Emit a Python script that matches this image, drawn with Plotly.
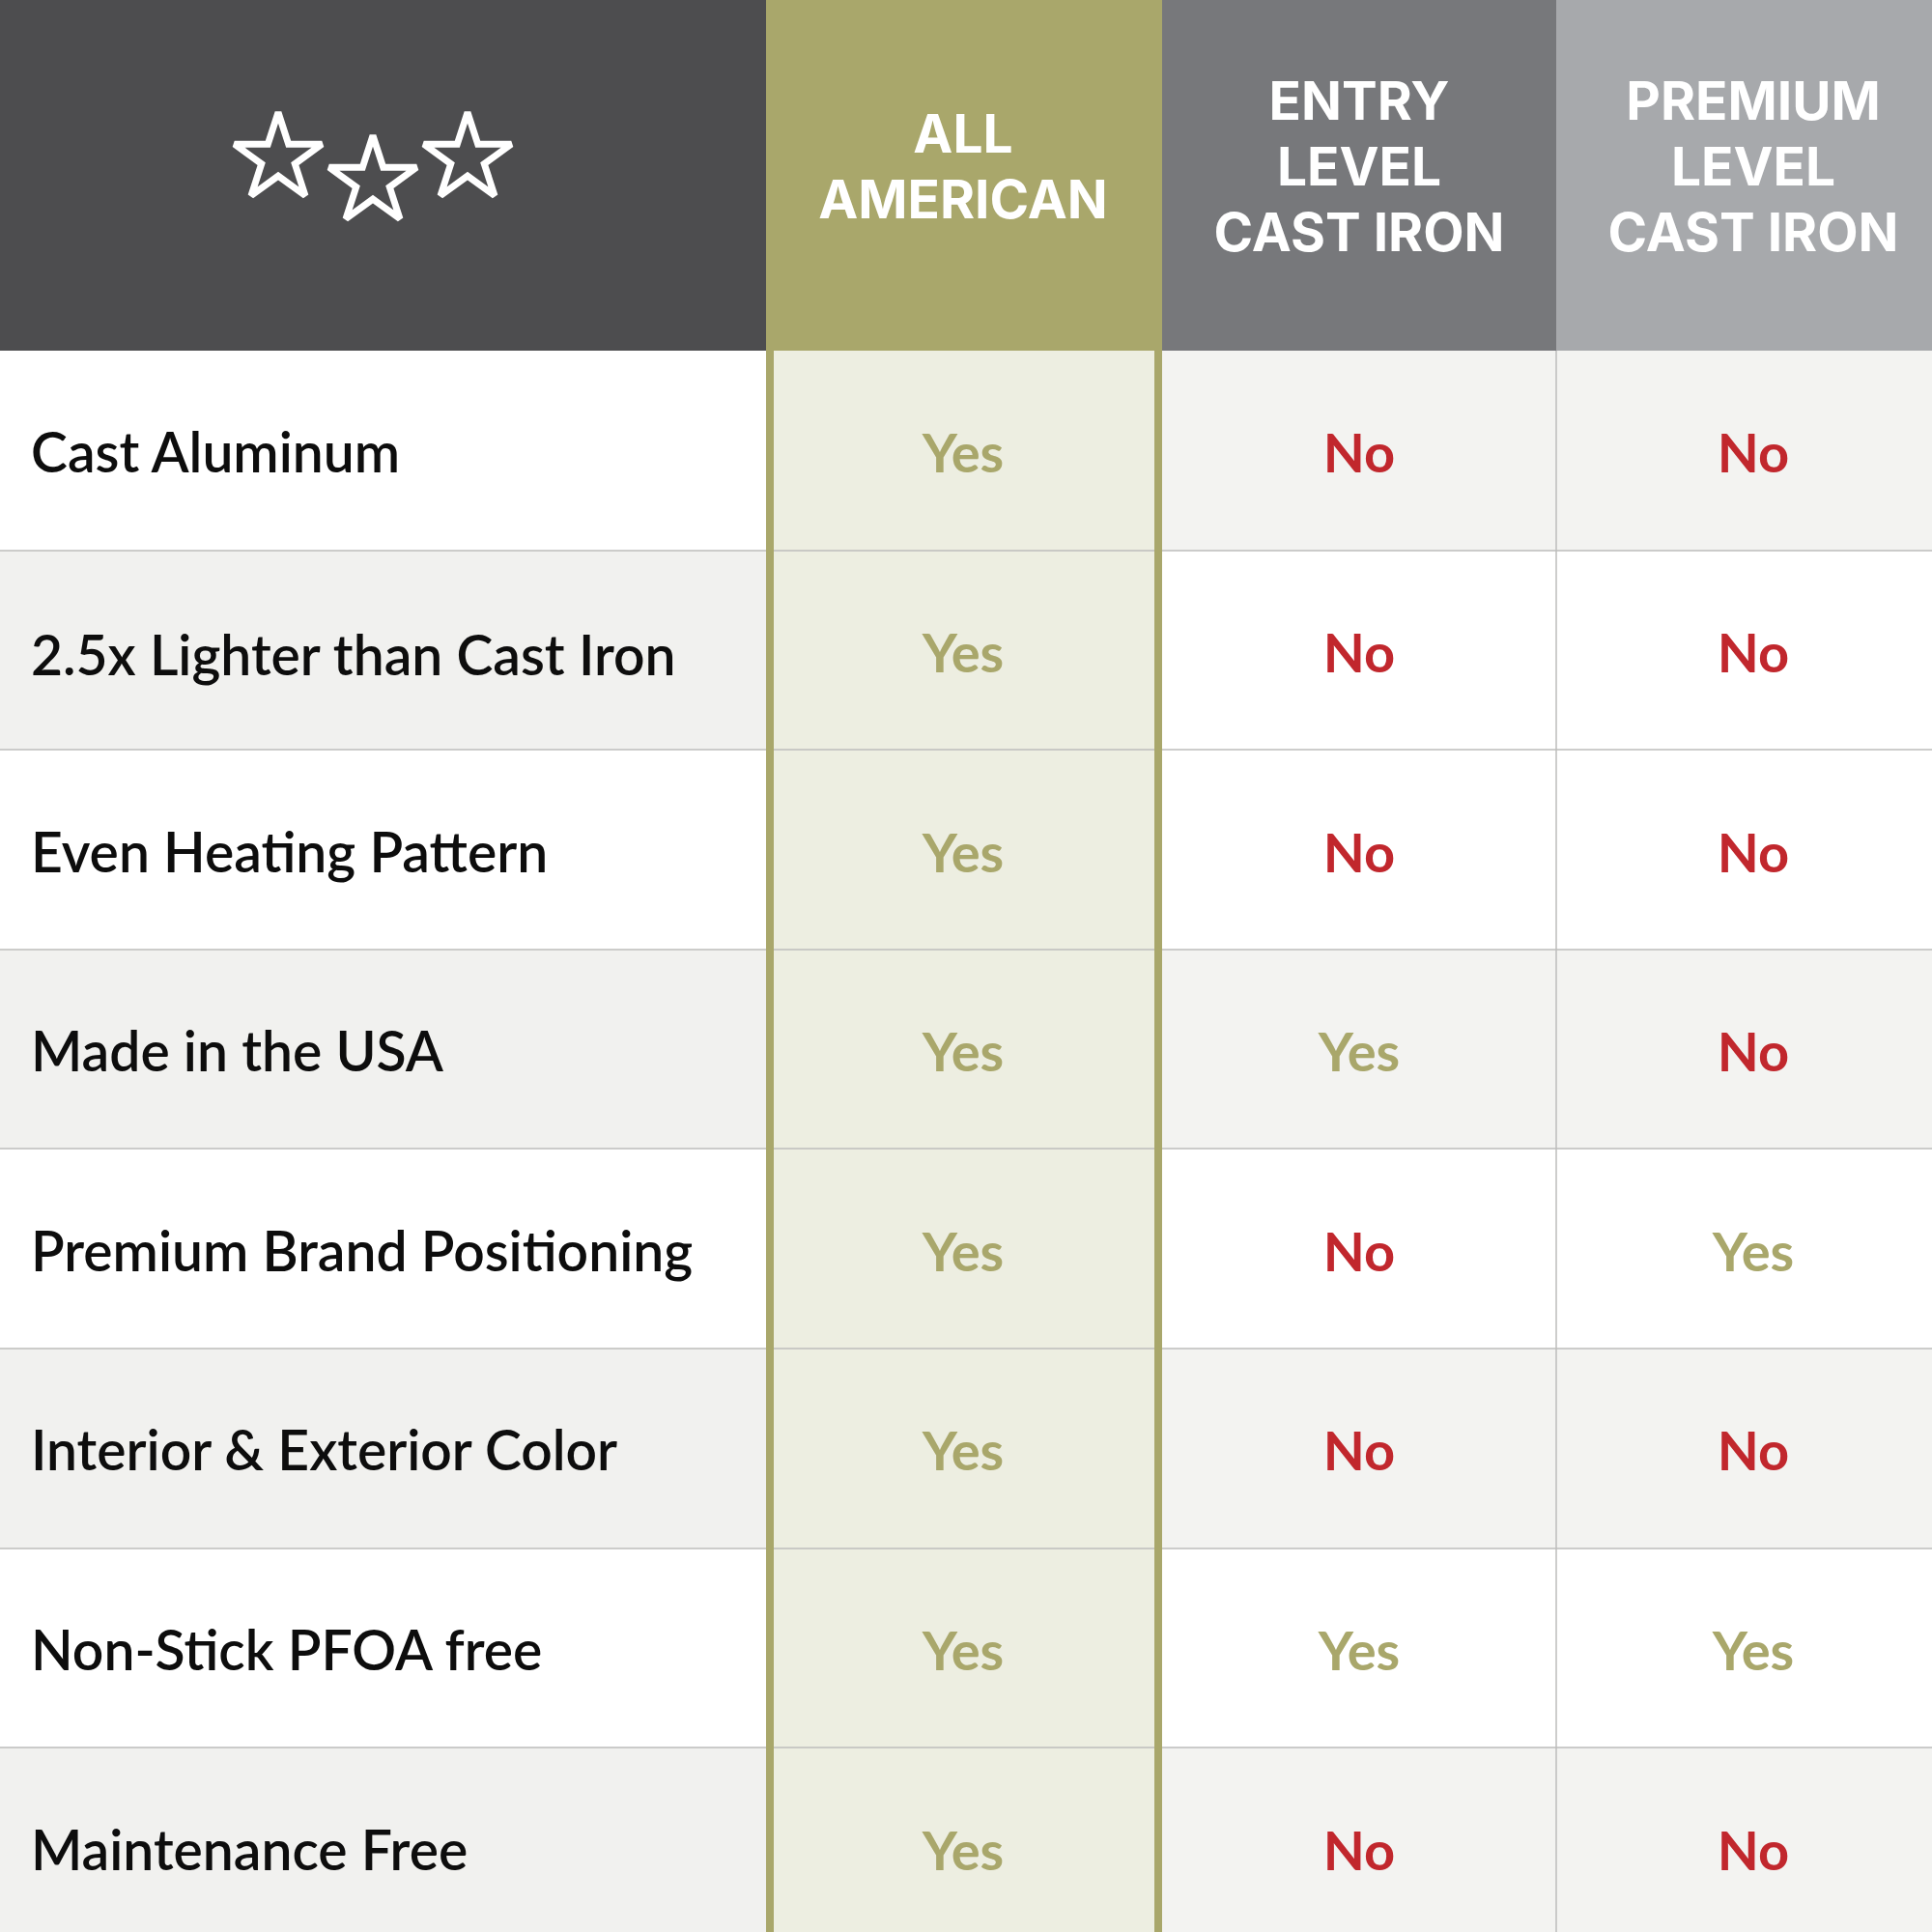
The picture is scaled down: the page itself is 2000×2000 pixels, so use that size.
import plotly.graph_objects as go

# table content
features = ["Cast Aluminum", "2.5x Lighter than Cast Iron", "Even Heating Pattern", "Made in the USA",
            "Premium Brand Positioning", "Interior & Exterior Color", "Non-Stick PFOA free", "Maintenance Free"]
all_american = ["Yes", "Yes", "Yes", "Yes", "Yes", "Yes", "Yes", "Yes"]
entry_level = ["No", "No", "No", "Yes", "No", "No", "Yes", "No"]
premium_level = ["No", "No", "No", "No", "Yes", "No", "Yes", "No"]
header_all = ["ALL", "AMERICAN"]
header_entry = ["ENTRY", "LEVEL", "CAST IRON"]
header_premium = ["PREMIUM", "LEVEL", "CAST IRON"]
star_count = 3

# layout, in page pixels
col_edges = [0, 793, 1203, 1611, 2000]
row_edges = [0, 363, 570, 776, 983, 1189, 1396, 1603, 1809, 2000]
col_centers = [997, 1407, 1815]
row_centers = [475, 682, 889, 1095, 1302, 1508, 1715, 1922]
feature_centers = [475, 685, 889, 1095, 1302, 1508, 1715, 1922]

DARK = "#4d4d4f"
OLIVE = "#a9a76b"
MID = "#77787b"
LIGHT = "#a7a9ac"
PALE = "#edeee1"
SHADE = "#f1f1ef"
SHADE2 = "#f3f3f1"
WHITE = "#ffffff"
RED = "#c1272d"
RULE = "#bdbdbb"
answer_colors = {"Yes": OLIVE, "No": RED}

palette = [DARK, OLIVE, MID, LIGHT, PALE, SHADE, SHADE2, WHITE]
scale = []
for i, c in enumerate(palette):
    scale.append([i / len(palette), c])
    scale.append([(i + 1) / len(palette), c])

# fill index per cell, header row first
# the two right columns run the same zebra as the left one, except the first two rows are swapped
z = [[0, 1, 2, 3]]
for i in range(len(features)):
    left = 5 if i % 2 else 7
    shaded = (i % 2 == 1) != (i < 2)
    right = 6 if shaded else 7
    z.append([left, 4, right, right])

fig = go.Figure()
fig.add_trace(go.Heatmap(x=col_edges, y=row_edges, z=z, colorscale=scale, zmin=0, zmax=len(palette),
                         showscale=False, hoverinfo="skip"))

# row rules and column rules
for y in row_edges[2:-1]:
    fig.add_shape(type="line", x0=0, x1=2000, y0=y, y1=y, line=dict(color=RULE, width=1.5))
fig.add_shape(type="line", x0=col_edges[3], x1=col_edges[3], y0=row_edges[1], y1=2000, line=dict(color=RULE, width=1.5))
fig.add_shape(type="line", x0=797, x1=797, y0=row_edges[1], y1=2000, line=dict(color=OLIVE, width=8))
fig.add_shape(type="line", x0=1199, x1=1199, y0=row_edges[1], y1=2000, line=dict(color=OLIVE, width=8))

# stars
fig.add_trace(go.Scatter(x=[288, 386, 484][:star_count], y=[164, 188, 164][:star_count], mode="markers",
                         marker=dict(symbol="star-open", size=68, color=WHITE, line=dict(color=WHITE, width=7)),
                         hoverinfo="skip"))

# header text, one trace entry per line
header_font = dict(family="Inter", size=55, color=WHITE, weight=700)
for center, lines, top in zip(col_centers, [header_all, header_entry, header_premium], [144, 110, 110]):
    fig.add_trace(go.Scatter(x=[center] * len(lines), y=[top + 68 * i for i in range(len(lines))], text=lines,
                             mode="text", textposition="middle center", textfont=header_font, hoverinfo="skip"))

# feature names
fig.add_trace(go.Scatter(x=[32] * len(features), y=feature_centers, text=features, mode="text",
                         textposition="middle right",
                         textfont=dict(family="Lato", size=57, color="#0d0d0d", weight=600), hoverinfo="skip"))

# yes / no columns
for center, answers in zip(col_centers, [all_american, entry_level, premium_level]):
    fig.add_trace(go.Scatter(x=[center] * len(answers), y=row_centers, text=answers, mode="text",
                             textposition="middle center",
                             textfont=dict(family="Lato", size=56, color=[answer_colors[a] for a in answers], weight=700),
                             hoverinfo="skip"))

fig.update_layout(width=2000, height=2000, margin=dict(l=0, r=0, t=0, b=0), showlegend=False,
                  plot_bgcolor=WHITE, paper_bgcolor=WHITE,
                  xaxis=dict(range=[0, 2000], visible=False, fixedrange=True),
                  yaxis=dict(range=[2000, 0], visible=False, fixedrange=True))
fig.write_html("out.html", config=dict(displayModeBar=False), post_script="document.body.style.margin='0';")
